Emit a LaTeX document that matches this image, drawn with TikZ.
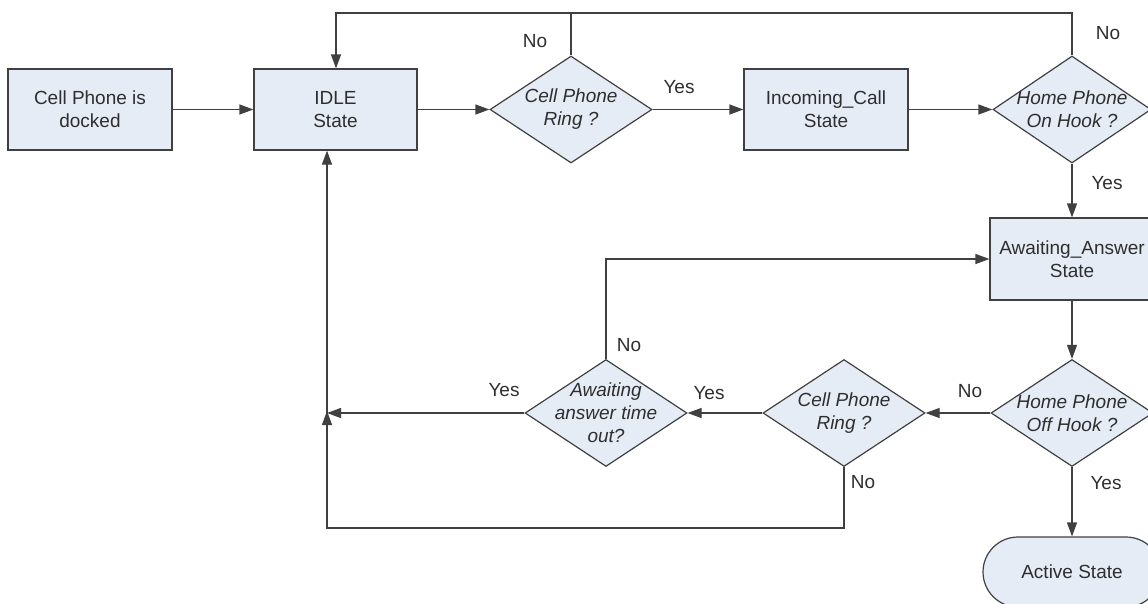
\documentclass[tikz,border=0pt]{standalone}
\usepackage{fontspec}
\setmainfont{Liberation Sans}
\usetikzlibrary{shapes.geometric,arrows.meta}
\definecolor{boxfill}{HTML}{E6ECF6}
\definecolor{edge}{HTML}{404040}
\definecolor{ink}{HTML}{2E2E2E}
\begin{document}
\begin{tikzpicture}[x=1pt,y=-1pt,
  every node/.style={text=ink,font=\fontsize{19}{23}\selectfont},
  statebox/.style={rectangle,draw=edge,line width=1.2pt,fill=boxfill,
    align=center,inner sep=0pt,minimum width=164pt,minimum height=81pt},
  decision/.style={diamond,draw=edge,line width=1.2pt,fill=boxfill,
    inner sep=0pt,minimum width=162pt,minimum height=107pt},
  qtext/.style={font=\fontsize{19}{23}\selectfont\itshape,align=center},
  endstate/.style={rectangle,rounded corners=35pt,draw=edge,line width=1.2pt,
    fill=boxfill,inner sep=0pt,minimum width=178pt,minimum height=70pt},
  flow/.style={draw=edge,line width=1.2pt,-{Triangle[length=14pt,width=10pt]}},
  link/.style={draw=edge,line width=1.2pt},
  tag/.style={inner sep=0pt}]
\useasboundingbox (0,0) rectangle (1148,603);
\clip (0,0) rectangle (1148,603);

% states
\node[statebox] (dock) at (90,109.5) {Cell Phone is\\docked};
\node[statebox,minimum width=163pt] (idle) at (335.5,109.5) {IDLE\\State};
\node[statebox] (inc) at (826,109.5) {Incoming\_Call\\State};
\node[statebox,minimum height=82pt] (await) at (1072,259) {Awaiting\_Answer\\State};
\node[endstate] (active) at (1072,572) {Active State};

% decisions
\node[decision] (ring1) at (571,109.5) {};
\node[qtext] at (ring1) {Cell Phone\\Ring ?};
\node[decision,minimum width=158pt] (hook1) at (1072,109.5) {};
\node[qtext] at (hook1) {Home Phone\\On Hook ?};
\node[decision] (tout) at (606,413) {};
\node[qtext] at (tout) {Awaiting\\answer time\\out?};
\node[decision] (ring2) at (844,413) {};
\node[qtext] at (ring2) {Cell Phone\\Ring ?};
\node[decision] (hook2) at (1072,413) {};
\node[qtext] at (hook2) {Home Phone\\Off Hook ?};

% junction points
\coordinate (top) at (336,13);
\coordinate (back) at (327,413);
\coordinate (low) at (327,528);

% main flow
\draw[flow] (dock) -- (idle);
\draw[flow] (idle) -- (ring1);
\draw[flow] (ring1) -- (inc);
\draw[flow] (inc) -- (hook1);
\draw[flow] (hook1) -- (await);
\draw[flow] (await) -- (hook2);
\draw[flow] (hook2) -- (active);
\draw[flow] (hook2) -- (ring2);
\draw[flow] (ring2) -- (tout);
\draw[flow] (tout.west) -- (back);

% loops back
\draw[flow] (hook1.north) |- (top) -- (top |- idle.north);
\draw[link] (ring1.north) -- (ring1.north |- top);
\draw[flow] (tout.north) |- (await.west);
\draw[flow] (ring2.south) |- (low) -- ([yshift=2pt]back);
\draw[flow] (back) -- (back |- idle.south);

% branch labels
\node[tag] at (535,41) {No};
\node[tag] at (679,87) {Yes};
\node[tag] at (1108,33) {No};
\node[tag] at (1107,183) {Yes};
\node[tag] at (629,345) {No};
\node[tag] at (504,390) {Yes};
\node[tag] at (709,393) {Yes};
\node[tag] at (970,391) {No};
\node[tag] at (863,482) {No};
\node[tag] at (1106,483) {Yes};
\end{tikzpicture}
\end{document}
